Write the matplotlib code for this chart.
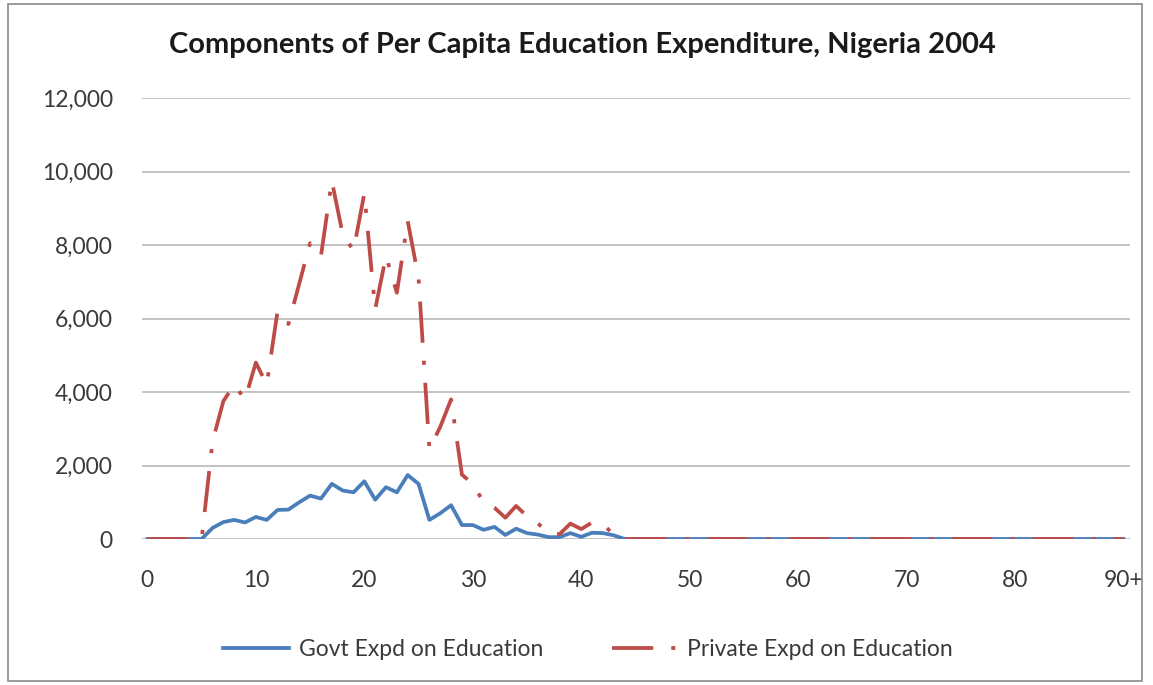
import matplotlib
matplotlib.use("Agg")
import matplotlib.pyplot as plt
import matplotlib.patches as mpatches
from matplotlib.ticker import FuncFormatter

# ── Data ──────────────────────────────────────────────────────────────────────
ages = list(range(0, 91))
tick_ages = [0, 10, 20, 30, 40, 50, 60, 70, 80, 90]
tick_labels = ["0", "10", "20", "30", "40", "50", "60", "70", "80", "90+"]

govt_expd = [
    0, 0, 0, 0, 0, 0, 300, 460, 520, 450,
    600, 520, 790, 800, 1000, 1180, 1100, 1500, 1320, 1270,
    1570, 1070, 1410, 1270, 1740, 1500, 520, 700, 920, 380,
    380, 250, 330, 110, 280, 160, 120, 50, 50, 160,
    60, 170, 160, 100, 0, 0, 0, 0, 0, 0,
    0, 0, 0, 0, 0, 0, 0, 0, 0, 0,
    0, 0, 0, 0, 0, 0, 0, 0, 0, 0,
    0, 0, 0, 0, 0, 0, 0, 0, 0, 0,
    0, 0, 0, 0, 0, 0, 0, 0, 0, 0,
    0,
]
private_expd = [
    0, 0, 0, 0, 0, 0, 2650, 3750, 4200, 3800,
    4800, 4200, 6200, 5850, 6950, 8050, 7700, 9750, 8300, 7850,
    9400, 6250, 7700, 6700, 8650, 7100, 2450, 3050, 3800, 1750,
    1500, 1000, 850, 580, 900, 620, 420, 180, 130, 420,
    270, 450, 400, 120, 0, 0, 0, 0, 0, 0,
    0, 0, 0, 0, 0, 0, 0, 0, 0, 0,
    0, 0, 0, 0, 0, 0, 0, 0, 0, 0,
    0, 0, 0, 0, 0, 0, 0, 0, 0, 0,
    0, 0, 0, 0, 0, 0, 0, 0, 0, 0,
    0,
]

# ── Palette ───────────────────────────────────────────────────────────────────
CLR_GOVT = "#4A7EBB"
CLR_PRIV = "#BE4B48"
CLR_GRID = "#BEBEBE"
CLR_TEXT = "#3a3a3a"

plt.rcParams["font.family"] = ["Lato", "DejaVu Sans"]

fig = plt.figure(figsize=(11.53, 6.85), dpi=100)
ax = fig.add_axes([142 / 1153, 1 - 539 / 685, (1130 - 142) / 1153, 441 / 685])

ax.plot(ages, govt_expd, color=CLR_GOVT, linewidth=2.7,
        solid_joinstyle="round", label="Govt Expd on Education", zorder=3)
ax.plot(ages, private_expd, color=CLR_PRIV, linewidth=2.7,
        linestyle=(0, (11, 4.8, 1.1, 4.8)),
        label="Private Expd on Education", zorder=4)

ax.set_xlim(-0.5, 90.6)
ax.set_ylim(0, 12000)
ax.set_yticks(range(0, 12001, 2000))
ax.yaxis.set_major_formatter(FuncFormatter(lambda v, _: f"{int(v):,}"))
ax.set_xticks(tick_ages)
ax.set_xticklabels(tick_labels)

ax.grid(axis="y", color=CLR_GRID, linewidth=1.3, zorder=0)
for s in ax.spines.values():
    s.set_visible(False)
ax.tick_params(axis="both", length=0, labelsize=16.5, colors=CLR_TEXT)
ax.tick_params(axis="y", pad=21)
ax.tick_params(axis="x", pad=22)

fig.text(0.505, 1 - 45 / 685, "Components of Per Capita Education Expenditure, Nigeria 2004",
         ha="center", va="center", fontsize=21, fontweight="bold", color="#1a1a1a")

fig.legend(loc="center", bbox_to_anchor=(0.51, 1 - 650 / 685), ncol=2,
           frameon=False, fontsize=16.5, handlelength=2.9, columnspacing=3.0,
           handletextpad=0.4, labelcolor=CLR_TEXT)

# outer chart border
fig.add_artist(mpatches.Rectangle((8 / 1153, 4 / 685), 1134 / 1153, 677 / 685,
                                  transform=fig.transFigure, fill=False,
                                  edgecolor="#8a8a8a", linewidth=1.2))

fig.savefig("out.png", dpi=100)
